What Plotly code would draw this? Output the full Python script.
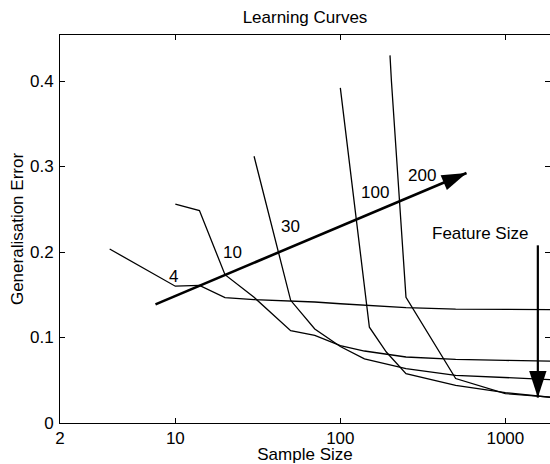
import math
import plotly.graph_objects as go

# ---- data (sample size, generalisation error) ----
n_f4 = [4, 10, 14, 20, 30, 50, 70, 100, 140, 250, 500, 1000, 2000]
e_f4 = [0.2035, 0.160, 0.161, 0.1467, 0.1443, 0.1427, 0.1415, 0.1395, 0.1377, 0.135, 0.1333, 0.1328, 0.1325]

n_f10 = [10, 14, 20, 30, 50, 70, 100, 140, 250, 500, 1000, 2000]
e_f10 = [0.2560, 0.2485, 0.1735, 0.1470, 0.1080, 0.1026, 0.0905, 0.0842, 0.0772, 0.0745, 0.0732, 0.0722]

n_f30 = [30, 50, 70, 100, 140, 250, 500, 1000, 2000]
e_f30 = [0.312, 0.1435, 0.110, 0.0895, 0.0750, 0.0635, 0.0558, 0.0530, 0.0505]

n_f100 = [100, 150, 190, 250, 500, 1000, 2000]
e_f100 = [0.392, 0.112, 0.083, 0.0578, 0.044, 0.0355, 0.0295]

n_f200 = [200, 204, 250, 500, 1000, 2000]
e_f200 = [0.430, 0.400, 0.147, 0.052, 0.0344, 0.0297]

curve_labels = ["4", "10", "30", "100", "200"]
label_x = [9.8, 22.1, 49.9, 163, 313]
label_y = [0.1708, 0.200, 0.230, 0.270, 0.2897]

# trend arrow (increasing feature size) and feature-size arrow
trend_x = [7.58, 582]
trend_y = [0.1388, 0.2924]
feat_x = [1574, 1574]
feat_y = [0.2078, 0.0297]
feat_label = "Feature Size"
feat_label_xy = (707, 0.2215)

x_ticks = [2, 10, 100, 1000]
x_tick_text = ["2", "10", "100", "1000"]
y_ticks = [0, 0.1, 0.2, 0.3, 0.4]
y_tick_text = ["0", "0.1", "0.2", "0.3", "0.4"]

FONT = "Liberation Sans, Arial, Helvetica, sans-serif"
FS = 17

fig = go.Figure()
for n, e in [(n_f4, e_f4), (n_f10, e_f10), (n_f30, e_f30), (n_f100, e_f100), (n_f200, e_f200)]:
    fig.add_trace(go.Scatter(x=n, y=e, mode="lines", line=dict(color="black", width=1.3),
                             showlegend=False, hoverinfo="skip"))

# thick trend arrow
fig.add_trace(go.Scatter(x=trend_x, y=trend_y, mode="lines", line=dict(color="black", width=2.6),
                         showlegend=False, hoverinfo="skip"))
fig.add_trace(go.Scatter(x=trend_x, y=trend_y, mode="markers",
                         marker=dict(symbol="arrow", size=26, angleref="previous", color="black",
                                     opacity=[0, 1], line=dict(width=0)),
                         showlegend=False, hoverinfo="skip"))
# feature size arrow
fig.add_trace(go.Scatter(x=feat_x, y=feat_y, mode="lines", line=dict(color="black", width=2.2),
                         showlegend=False, hoverinfo="skip"))
fig.add_trace(go.Scatter(x=feat_x, y=feat_y, mode="markers",
                         marker=dict(symbol="arrow", size=28, angleref="previous", color="black",
                                     opacity=[0, 1], line=dict(width=0)),
                         showlegend=False, hoverinfo="skip"))

for t, x, y in zip(curve_labels, label_x, label_y):
    fig.add_annotation(x=math.log10(x), y=y, text=t, showarrow=False,
                       font=dict(family=FONT, size=FS, color="black"),
                       xanchor="center", yanchor="middle")
fig.add_annotation(x=math.log10(feat_label_xy[0]), y=feat_label_xy[1], text=feat_label, showarrow=False,
                   font=dict(family=FONT, size=FS, color="black"), xanchor="center", yanchor="middle")

x0 = math.log10(2)
fig.update_layout(
    width=550, height=464,
    margin=dict(l=60, r=0, t=35, b=41, autoexpand=False),
    paper_bgcolor="white", plot_bgcolor="white",
    font=dict(family=FONT, size=FS, color="black"),
    title=dict(text="Learning Curves", x=0.5, xref="paper", xanchor="center",
               y=1 - 17.5 / 464, yref="container", yanchor="middle",
               font=dict(family=FONT, size=FS, color="black")),
    xaxis=dict(type="log", range=[x0, x0 + 490 / 165], tickvals=x_ticks, ticktext=x_tick_text,
               ticks="inside", ticklen=5, tickwidth=1, tickcolor="black",
               showline=True, linecolor="black", linewidth=1, mirror="ticks",
               showgrid=False, zeroline=False, tickfont=dict(size=FS),
               title=dict(text="Sample Size", standoff=3, font=dict(size=FS))),
    yaxis=dict(range=[0, 0.4538], tickvals=y_ticks, ticktext=y_tick_text,
               ticks="inside", ticklen=5, tickwidth=1, tickcolor="black",
               showline=True, linecolor="black", linewidth=1, mirror="ticks",
               showgrid=False, zeroline=False, tickfont=dict(size=FS),
               ticklabelstandoff=2,
               title=dict(text="Generalisation Error", standoff=2, font=dict(size=FS))),
)

fig.write_html("out.html", config={"displayModeBar": False},
               post_script="document.body.style.margin='0';")
